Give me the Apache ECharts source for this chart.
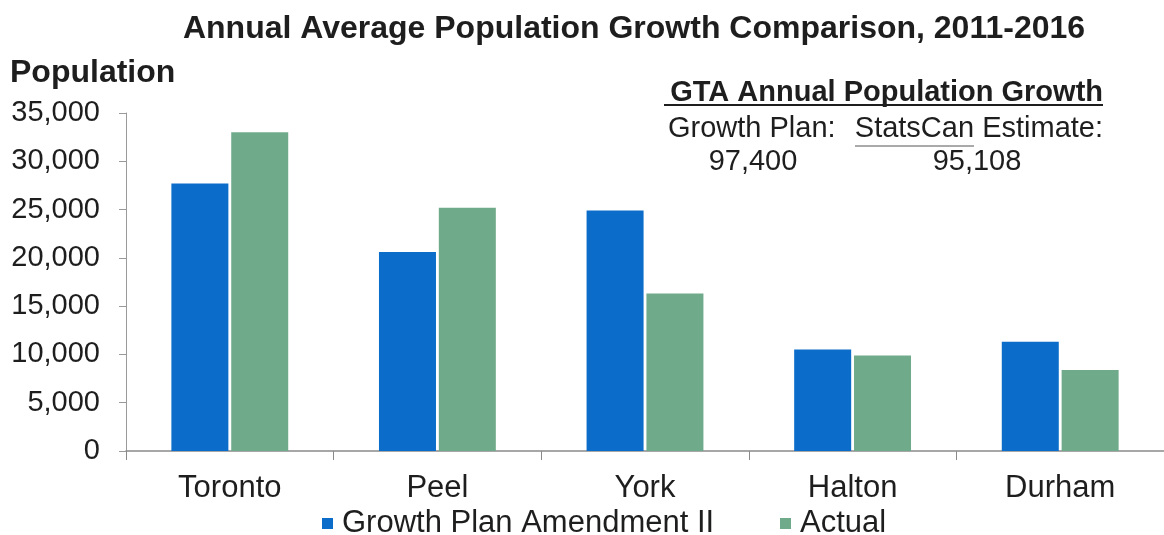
<!DOCTYPE html>
<html>
<head>
<meta charset="utf-8">
<script src="https://cdn.jsdelivr.net/npm/echarts@6/dist/echarts.min.js"></script>
<style>
html,body{margin:0;padding:0;background:#fff;}
#chart{width:1164px;height:535px;}
</style>
</head>
<body>
<div id="chart"></div>
<script>
var categories = ['Toronto', 'Peel', 'York', 'Halton', 'Durham'];
var growthPlan = [27700, 20600, 24900, 10500, 11300];
var actual = [33000, 25200, 16300, 9900, 8400];
var yTicks = [0, 5000, 10000, 15000, 20000, 25000, 30000, 35000];
var seriesNames = ['Growth Plan Amendment II', 'Actual'];
var titleText = 'Annual Average Population Growth Comparison, 2011-2016';
var yAxisTitle = 'Population';
var noteTitle = 'GTA Annual Population Growth';
var noteLabels = ['Growth Plan:', 'StatsCan Estimate:'];
var noteValues = ['97,400', '95,108'];

var FONT = "'Liberation Sans', Arial, sans-serif";
var BLUE = '#0b6dc9';
var GREEN = '#6fab8b';
var TEXT = '#1e1e1e';

var chart = echarts.init(document.getElementById('chart'));
chart.setOption({
  backgroundColor: '#fff',
  animation: false,
  grid: { left: 126, right: -9, top: 113, bottom: 84, containLabel: false },
  legend: [
    {
      data: [seriesNames[0]], left: 322, top: 508, padding: 0, itemWidth: 11, itemHeight: 11,
      icon: 'rect', itemGap: 10,
      textStyle: { fontFamily: FONT, fontSize: 31, color: TEXT, padding: [0, 0, 0, 4] }
    },
    {
      data: [seriesNames[1]], left: 780, top: 508, padding: 0, itemWidth: 11, itemHeight: 11,
      icon: 'rect', itemGap: 10,
      textStyle: { fontFamily: FONT, fontSize: 31, color: TEXT, padding: [0, 0, 0, 4] }
    }
  ],
  xAxis: {
    type: 'category',
    data: categories,
    axisLine: { lineStyle: { color: '#8a8a8a', width: 1.5 } },
    axisTick: { show: true, length: 9, lineStyle: { color: '#8a8a8a' } },
    axisLabel: { fontFamily: FONT, fontSize: 31, color: TEXT, margin: 22 },
    splitLine: { show: false }
  },
  yAxis: {
    type: 'value',
    min: 0, max: 35000, interval: 5000,
    axisLine: { show: true, lineStyle: { color: '#9a9a9a', width: 1 } },
    axisTick: { show: true, length: 7, lineStyle: { color: '#9a9a9a' } },
    axisLabel: {
      fontFamily: FONT, fontSize: 29, color: TEXT, margin: 26,
      formatter: function (v) { return v.toLocaleString('en-US'); }
    },
    splitLine: { show: false }
  },
  series: [
    {
      name: seriesNames[0], type: 'bar', data: growthPlan,
      barWidth: 57, barGap: '5%',
      itemStyle: { color: BLUE }
    },
    {
      name: seriesNames[1], type: 'bar', data: actual,
      barWidth: 57,
      itemStyle: { color: GREEN }
    }
  ],
  graphic: [
    { type: 'text', x: 634, y: 13, style: {
        text: titleText, fontFamily: FONT, fontSize: 32, fontWeight: 'bold', fill: TEXT, align: 'center' } },
    { type: 'text', x: 10, y: 57, style: {
        text: yAxisTitle, fontFamily: FONT, fontSize: 32, fontWeight: 'bold', fill: TEXT } },
    { type: 'text', x: 1103, y: 78, style: {
        text: noteTitle, fontFamily: FONT, fontSize: 29, fontWeight: 'bold', fill: TEXT, align: 'right' } },
    { type: 'line', shape: { x1: 664, y1: 105, x2: 1103, y2: 105 }, style: { stroke: TEXT, lineWidth: 2 } },
    { type: 'text', x: 668, y: 114, style: {
        text: noteLabels[0], fontFamily: FONT, fontSize: 29, fill: TEXT, align: 'left' } },
    { type: 'text', x: 1103, y: 114, style: {
        text: noteLabels[1], fontFamily: FONT, fontSize: 29, fill: TEXT, align: 'right' } },
    { type: 'line', shape: { x1: 855, y1: 146, x2: 974, y2: 146 }, style: { stroke: '#555', lineWidth: 1 } },
    { type: 'text', x: 753, y: 147, style: {
        text: noteValues[0], fontFamily: FONT, fontSize: 29, fill: TEXT, align: 'center' } },
    { type: 'text', x: 977, y: 147, style: {
        text: noteValues[1], fontFamily: FONT, fontSize: 29, fill: TEXT, align: 'center' } }
  ]
});
</script>
</body>
</html>
